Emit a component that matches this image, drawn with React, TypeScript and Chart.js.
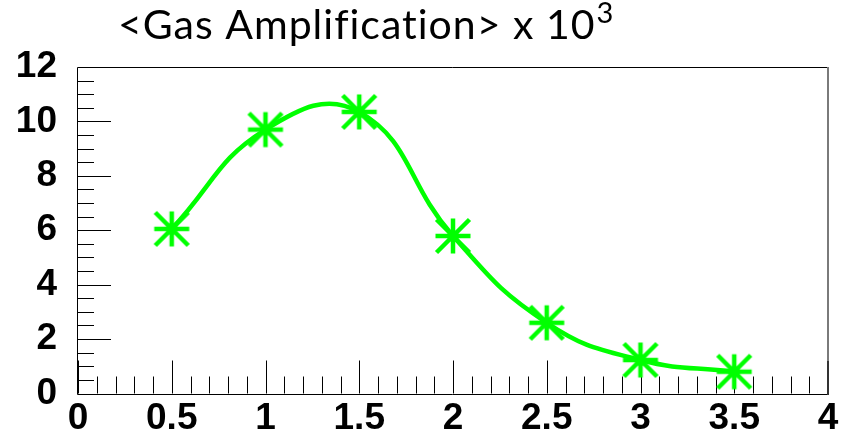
import React, { useEffect, useRef } from "react";
import { Chart, registerables } from "chart.js";

Chart.register(...registerables);

// ---- data ----
const xValues = [0.5, 1.0, 1.5, 2.0, 2.5, 3.0, 3.5];
const gasAmplification = [6.05, 9.7, 10.35, 5.79, 2.6, 1.23, 0.8];
const xTickLabels = ["0", "0.5", "1", "1.5", "2", "2.5", "3", "3.5", "4"];
const yTickLabels = ["0", "2", "4", "6", "8", "10", "12"];
const titleMain = "<Gas Amplification> x 10";
const titleSup = "3";

const X_MIN = 0;
const X_MAX = 4;
const X_MAJOR = 0.5;
const X_MINOR = 0.1;
const Y_MIN = 0;
const Y_MAX = 12;
const Y_MAJOR = 2;
const Y_MINOR = 0.5;

const GREEN = "#00ff00";

function makeAsterisk(): HTMLCanvasElement {
  const c = document.createElement("canvas");
  const s = 40;
  c.width = s;
  c.height = s;
  const g = c.getContext("2d")!;
  const r = 17.5;
  const m = s / 2;
  g.strokeStyle = GREEN;
  g.lineWidth = 4.5;
  g.lineCap = "butt";
  g.beginPath();
  g.moveTo(m - r, m);
  g.lineTo(m + r, m);
  g.moveTo(m, m - r);
  g.lineTo(m, m + r);
  g.moveTo(m - r + 1, m - r + 1);
  g.lineTo(m + r - 1, m + r - 1);
  g.moveTo(m + r - 1, m - r + 1);
  g.lineTo(m - r + 1, m + r - 1);
  g.stroke();
  return c;
}

const framePlugin = {
  id: "rootFrame",
  beforeDatasetsDraw(chart: any) {
    const { ctx, chartArea } = chart;
    const xs = chart.scales.x;
    const ys = chart.scales.y;
    const { left, right, top, bottom } = chartArea;
    ctx.save();
    ctx.strokeStyle = "#000";
    ctx.lineWidth = 1;
    ctx.beginPath();
    const nx = Math.round((X_MAX - X_MIN) / X_MINOR);
    for (let i = 0; i < nx; i++) {
      const v = X_MIN + i * X_MINOR;
      const isMajor = Math.abs(v / X_MAJOR - Math.round(v / X_MAJOR)) < 1e-6;
      const px = Math.round(xs.getPixelForValue(v)) + 0.5;
      const len = isMajor ? 33 : 17;
      ctx.moveTo(px, bottom);
      ctx.lineTo(px, bottom - len);
    }
    const ny = Math.round((Y_MAX - Y_MIN) / Y_MINOR);
    for (let i = 0; i < ny; i++) {
      const v = Y_MIN + i * Y_MINOR;
      const isMajor = Math.abs(v / Y_MAJOR - Math.round(v / Y_MAJOR)) < 1e-6;
      const py = Math.round(ys.getPixelForValue(v)) + 0.5;
      const len = isMajor ? 33 : 16;
      ctx.moveTo(left, py);
      ctx.lineTo(left + len, py);
    }
    ctx.stroke();
    ctx.beginPath();
    ctx.moveTo(Math.round(right), Math.round(top) + 0.5);
    ctx.lineTo(Math.round(left) - 0.5, Math.round(top) + 0.5);
    ctx.lineTo(Math.round(left) - 0.5, Math.round(bottom) + 0.5);
    ctx.lineTo(Math.round(right), Math.round(bottom) + 0.5);
    ctx.stroke();
    ctx.strokeStyle = "#7a7a7a";
    ctx.lineWidth = 2;
    ctx.beginPath();
    ctx.moveTo(Math.round(right), Math.round(top));
    ctx.lineTo(Math.round(right), Math.round(bottom) + 1);
    ctx.stroke();
    ctx.strokeStyle = "#333";
    ctx.beginPath();
    ctx.moveTo(Math.round(right), Math.round(bottom) - 33);
    ctx.lineTo(Math.round(right), Math.round(bottom) + 1);
    ctx.stroke();
    ctx.restore();
  },
  afterDraw(chart: any) {
    const { ctx } = chart;
    ctx.save();
    ctx.fillStyle = "#000";
    ctx.textBaseline = "alphabetic";
    ctx.textAlign = "left";
    ctx.font = "41px Lato";
    try {
      (ctx as any).letterSpacing = "1px";
    } catch (e) {}
    ctx.fillText(titleMain, 118, 39);
    const w = ctx.measureText(titleMain).width;
    try {
      (ctx as any).letterSpacing = "0px";
    } catch (e) {}
    ctx.font = "29px Lato";
    ctx.fillText(titleSup, 118 + w + 1, 23);
    ctx.restore();
  },
};

export default function App() {
  const ref = useRef<HTMLCanvasElement | null>(null);
  useEffect(() => {
    if (!ref.current) return;
    const star = makeAsterisk();
    const chart = new Chart(ref.current, {
      type: "line",
      data: {
        datasets: [
          {
            data: xValues.map((x, i) => ({ x, y: gasAmplification[i] })),
            borderColor: GREEN,
            backgroundColor: GREEN,
            borderWidth: 4.5,
            tension: 0.45,
            fill: false,
            clip: false as any,
            pointStyle: star as any,
            pointRadius: 18,
            pointHoverRadius: 18,
          },
        ],
      },
      options: {
        animation: false,
        responsive: false,
        devicePixelRatio: 1,
        events: [],
        layout: { autoPadding: false, padding: { top: 67, right: 14, left: 0, bottom: 0 } },
        plugins: {
          legend: { display: false },
          title: { display: false },
          tooltip: { enabled: false },
        },
        scales: {
          x: {
            type: "linear",
            min: X_MIN,
            max: X_MAX,
            grid: { display: false, drawTicks: false },
            border: { display: false },
            afterFit: (s: any) => {
              s.height = 37;
              s.paddingLeft = 0;
              s.paddingRight = 0;
            },
            afterBuildTicks: (s: any) => {
              s.ticks = xTickLabels.map((_, i) => ({ value: X_MIN + i * X_MAJOR }));
            },
            ticks: {
              autoSkip: false,
              maxRotation: 0,
              padding: 7,
              color: "#000",
              font: { family: "Liberation Sans", weight: "bold", size: 37, lineHeight: 1 },
              callback: (_v: any, i: number) => xTickLabels[i],
            },
          },
          y: {
            type: "linear",
            min: Y_MIN,
            max: Y_MAX,
            grid: { display: false, drawTicks: false },
            border: { display: false },
            afterFit: (s: any) => {
              s.width = 78;
            },
            afterBuildTicks: (s: any) => {
              s.ticks = yTickLabels.map((_, i) => ({ value: Y_MIN + i * Y_MAJOR }));
            },
            ticks: {
              autoSkip: false,
              padding: 21,
              color: "#000",
              font: { family: "Liberation Sans", weight: "bold", size: 37, lineHeight: 1 },
              callback: (_v: any, i: number) => yTickLabels[i],
            },
          },
        },
      },
      plugins: [framePlugin],
    });
    return () => chart.destroy();
  }, []);
  return (
    <div style={{ position: "fixed", left: 0, top: 0, width: 842, height: 433, background: "#fff" }}>
      <canvas ref={ref} width={842} height={433} style={{ width: 842, height: 433, display: "block" }} />
    </div>
  );
}
